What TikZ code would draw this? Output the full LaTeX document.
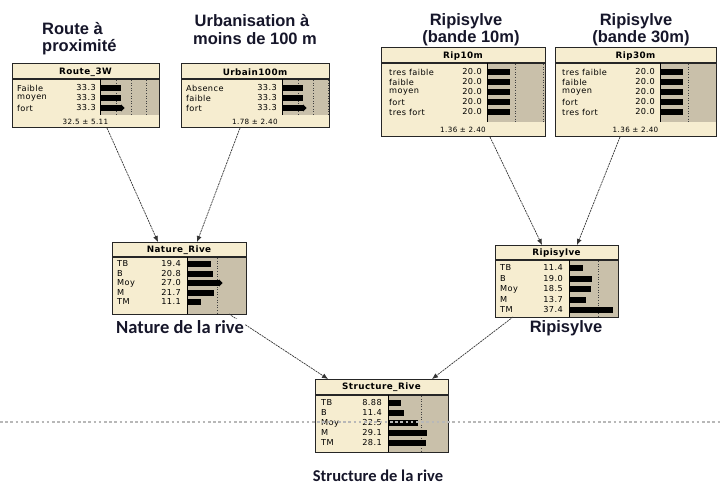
\documentclass[tikz,border=0pt]{standalone}
\usepackage{fontspec}
\setmainfont{Liberation Sans}
\newfontfamily\carl{Carlito}
\newfontfamily\dvs[LetterSpace=5]{DejaVu Sans}
\usetikzlibrary{arrows.meta,calc}
\definecolor{cream}{HTML}{F6EDD0}
\definecolor{tanbg}{HTML}{C9C0AA}
\definecolor{lbl}{HTML}{16162A}
\newcounter{tn}
\newcommand\Txt[3][]{\stepcounter{tn}\node[#1] (t\arabic{tn}) at (#2) {#3};}
% #1 name #2 L #3 T #4 R #5 B #6 sepY #7 grayL #8 grayB #9 title
\newcommand\NBox[9]{%
  \node[netnode, minimum width={(#4-#2)*1pt}, minimum height={(#5-#3)*1pt}] (#1) at ({(#2+#4)/2},{(#3+#5)/2}) {};
  \fill[tanbg] (#7,#6) rectangle (#4,#8);
  \draw[black!85, line width=1.1pt] (#2,#6) -- (#4,#6);
  \draw[black, line width=0.8pt] (#7,#6) -- (#7,#8);
  \Txt[ntitle]{{(#2+#4)/2},{(#3+#6)/2+0.5}}{#9}
}
% #1 grayL #2 top #3 bottom #4 right #5 scale
\newcommand\NDots[5]{%
  \foreach \p in {25,50,75}{%
    \pgfmathsetmacro\xx{#1+1+\p*#5}%
    \ifdim\xx pt<#4pt \draw[dotline] (\xx,#2+1) -- (\xx,#3); \fi}}
% #1 leftX #2 valRightX #3 grayL #4 y #5 label #6 value #7 pct #8 scale
\newcommand\NRow[8]{%
  \Txt[nrow,anchor=west]{#1,#4}{#5}
  \Txt[nrow,anchor=east]{#2,#4}{#6}
  \fill[black] (#3+1,#4-3) rectangle ({#3+1+#7*#8},#4+3);}
\newcommand\NTip[2]{\fill[black] (#1,#2-3.6) -- (#1+3.5,#2) -- (#1,#2+3.6) -- cycle;}
\tikzset{
  netnode/.style={draw=black!85, line width=1pt, fill=cream, inner sep=0pt, outer sep=0pt},
  nborder/.style={draw=black!85, line width=1pt},
  conn/.style={draw=black!80, line width=0.7pt, dash pattern=on 2pt off 0.8pt, -{Latex[length=6pt,width=5pt]}},
  biglabel/.style={font=\fontsize{16.5}{17}\selectfont\bfseries, text=lbl, inner sep=0pt, anchor=base},
  ntitle/.style={font=\dvs\fontsize{8.8}{9}\selectfont\bfseries, inner sep=0pt},
  nrow/.style={font=\dvs\fontsize{8.2}{9}\selectfont, inner sep=0pt},
  nfoot/.style={font=\dvs\fontsize{7.2}{8}\selectfont, inner sep=0pt},
  dotline/.style={black!75, line width=0.8pt, dash pattern=on 1pt off 1.6pt},
}
\begin{document}
\begin{tikzpicture}[x=1pt,y=-1pt]
\fill[white] (0,0) rectangle (727,489);
\useasboundingbox (0,0) rectangle (727,489);

% ---------- Route_3W ----------
\NBox{route}{12}{64}{159}{128}{79}{100}{115}{Route\_3W}
\NDots{100}{79}{115}{159}{0.6}
\NRow{17}{96}{100}{88}{Faible}{33.3}{33.3}{0.6}
\NRow{17}{96}{100}{98}{moyen}{33.3}{33.3}{0.6}
\NRow{17}{96}{100}{108}{fort}{33.3}{33.3}{0.6}
\NTip{121}{108}
\Txt[nfoot]{85.5,121.5}{32.5 ± 5.11}
\draw[nborder] (route.north west) rectangle (route.south east);

% ---------- Urbain100m ----------
\NBox{urbain}{181}{64}{329}{128}{79}{282}{115}{Urbain100m}
\NDots{282}{79}{115}{329}{0.6}
\NRow{186}{277}{282}{88}{Absence}{33.3}{33.3}{0.6}
\NRow{186}{277}{282}{98}{faible}{33.3}{33.3}{0.6}
\NRow{186}{277}{282}{108}{fort}{33.3}{33.3}{0.6}
\NTip{303}{108}
\Txt[nfoot]{255,121.5}{1.78 ± 2.40}
\draw[nborder] (urbain.north west) rectangle (urbain.south east);

% ---------- Rip10m ----------
\NBox{rip10}{381}{48}{545}{137}{63}{487}{122}{Rip10m}
\NDots{487}{63}{122}{545}{1.1}
\NRow{389}{482}{487}{72}{tres faible}{20.0}{20}{1.1}
\NRow{389}{482}{487}{82}{faible}{20.0}{20}{1.1}
\NRow{389}{482}{487}{92}{moyen}{20.0}{20}{1.1}
\NRow{389}{482}{487}{102}{fort}{20.0}{20}{1.1}
\NRow{389}{482}{487}{112}{tres fort}{20.0}{20}{1.1}
\Txt[nfoot]{463,129.5}{1.36 ± 2.40}
\draw[nborder] (rip10.north west) rectangle (rip10.south east);

% ---------- Rip30m ----------
\NBox{rip30}{555}{48}{716}{137}{63}{660}{122}{Rip30m}
\NDots{660}{63}{122}{716}{1.1}
\NRow{562}{655}{660}{72}{tres faible}{20.0}{20}{1.1}
\NRow{562}{655}{660}{82}{faible}{20.0}{20}{1.1}
\NRow{562}{655}{660}{92}{moyen}{20.0}{20}{1.1}
\NRow{562}{655}{660}{102}{fort}{20.0}{20}{1.1}
\NRow{562}{655}{660}{112}{tres fort}{20.0}{20}{1.1}
\Txt[nfoot]{635.5,129.5}{1.36 ± 2.40}
\draw[nborder] (rip30.north west) rectangle (rip30.south east);

% ---------- Nature_Rive ----------
\NBox{nature}{112}{242}{246}{314}{257}{187}{314}{Nature\_Rive}
\NDots{187}{257}{314}{246}{1.18}
\NRow{117}{181}{187}{264}{TB}{19.4}{19.4}{1.18}
\NRow{117}{181}{187}{273.5}{B}{20.8}{20.8}{1.18}
\NRow{117}{181}{187}{283}{Moy}{27.0}{27.0}{1.18}
\NRow{117}{181}{187}{292.5}{M}{21.7}{21.7}{1.18}
\NRow{117}{181}{187}{302}{TM}{11.1}{11.1}{1.18}
\NTip{219}{283}
\draw[nborder] (nature.north west) rectangle (nature.south east);

% ---------- Ripisylve ----------
\NBox{ripi}{495}{245}{618}{317}{260}{569}{317}{Ripisylve}
\NDots{569}{260}{317}{618}{1.15}
\NRow{500}{563}{569}{268}{TB}{11.4}{11.4}{1.15}
\NRow{500}{563}{569}{278.5}{B}{19.0}{19.0}{1.15}
\NRow{500}{563}{569}{289}{Moy}{18.5}{18.5}{1.15}
\NRow{500}{563}{569}{299.5}{M}{13.7}{13.7}{1.15}
\NRow{500}{563}{569}{310}{TM}{37.4}{37.4}{1.15}
\draw[nborder] (ripi.north west) rectangle (ripi.south east);

% ---------- Structure_Rive ----------
\NBox{struct}{315}{379}{448}{452}{395}{388}{452}{Structure\_Rive}
\NDots{388}{395}{452}{448}{1.3}
\NRow{321}{382}{388}{403}{TB}{8.88}{8.88}{1.3}
\NRow{321}{382}{388}{413}{B}{11.4}{11.4}{1.3}
\NRow{321}{382}{388}{423}{Moy}{22.5}{22.5}{1.3}
\NRow{321}{382}{388}{433}{M}{29.1}{29.1}{1.3}
\NRow{321}{382}{388}{443}{TM}{28.1}{28.1}{1.3}
\draw[nborder] (struct.north west) rectangle (struct.south east);

% ---------- connectors ----------
\draw[conn] ([xshift=21.5pt]route.south) -- ([xshift=-21pt]nature.north);
\draw[conn] ([xshift=-15pt]urbain.south) -- ([xshift=18pt]nature.north);
\draw[conn] ([xshift=27pt]rip10.south) -- ([xshift=-14.5pt]ripi.north);
\draw[conn] ([xshift=-15.5pt]rip30.south) -- ([xshift=20.5pt]ripi.north);
\draw[conn] ([xshift=50pt]nature.south) -- ([xshift=-53.5pt]struct.north);
\draw[conn] ([xshift=-43.5pt]ripi.south) -- ([xshift=50.5pt]struct.north);

% ---------- horizontal dotted rule ----------
\draw[black!28, line width=2.2pt, dash pattern=on 2.6pt off 2.6pt] (0,422) -- (720,422);

% ---------- big labels ----------
\node[biglabel, anchor=base west] (lroute1) at (42,35) {Route à};
\node[biglabel, anchor=base west] (lroute2) at (42,52) {proximité};
\node[biglabel] (lurb1) at (252,27) {Urbanisation à};
\node[biglabel] (lurb2) at (255,45) {moins de 100 m};
\node[biglabel] (lr10a) at (466,26) {Ripisylve};
\node[biglabel] (lr10b) at (471,43) {(bande 10m)};
\node[biglabel] (lr30a) at (636,26) {Ripisylve};
\node[biglabel] (lr30b) at (641,43) {(bande 30m)};
\node[biglabel, font=\carl\fontsize{18.5}{19}\selectfont\bfseries, fill=white, inner sep=1pt] (lnat) at (180,333) {Nature de la rive};
\node[biglabel] (lripi) at (566,332) {Ripisylve};
\node[biglabel, font=\carl\fontsize{16.5}{17}\selectfont\bfseries] (lstruct) at (378,481) {Structure de la rive};
\end{tikzpicture}
\end{document}
